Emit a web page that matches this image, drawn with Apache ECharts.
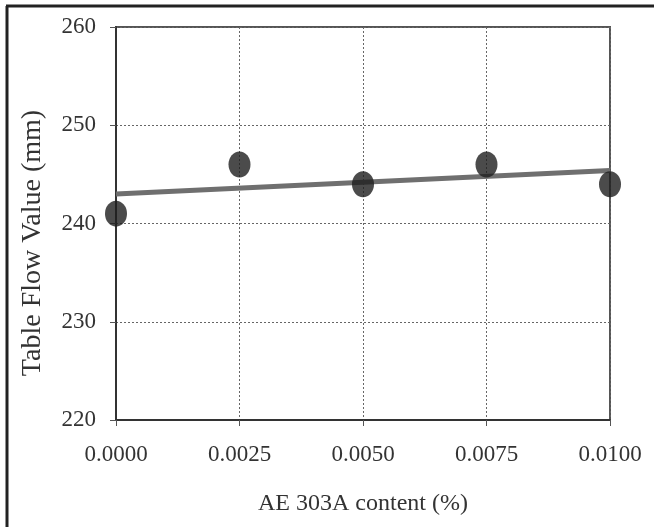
<!DOCTYPE html>
<html><head><meta charset="utf-8">
<script src="https://cdn.jsdelivr.net/npm/echarts@6/dist/echarts.min.js"></script>
<style>html,body{margin:0;padding:0;background:#fff}#c{width:654px;height:527px}</style>
</head><body><div id="c"></div>
<script>
const xValues = [0.0000, 0.0025, 0.0050, 0.0075, 0.0100];
const yValues = [241, 246, 244, 246, 244];
const trendX = [0.0000, 0.0100];
const trendY = [243.0, 245.4];
const xTicks = ['0.0000', '0.0025', '0.0050', '0.0075', '0.0100'];
const yTicks = [220, 230, 240, 250, 260];
const xTitle = 'AE 303A content (%)';
const yTitle = 'Table Flow Value (mm)';

const font = 'Liberation Serif';
const chart = echarts.init(document.getElementById('c'));
chart.setOption({
  animation: false,
  backgroundColor: '#fff',
  grid: { left: 116, right: 44, top: 27, bottom: 107, show: true, borderColor: '#555', borderWidth: 2, backgroundColor: 'transparent' },
  xAxis: {
    type: 'value', min: 0, max: 0.01, interval: 0.0025,
    name: xTitle, nameLocation: 'middle', nameGap: 72,
    nameTextStyle: { fontFamily: font, fontSize: 24, color: '#333' },
    axisLine: { show: true, onZero: false, lineStyle: { color: '#333', width: 2 } },
    axisTick: { show: true, length: 6, lineStyle: { color: '#555' } },
    axisLabel: { fontFamily: font, fontSize: 23, color: '#333', margin: 23,
      formatter: v => xTicks[Math.round(v / 0.0025)] },
    splitLine: { show: true, lineStyle: { color: '#666', type: [2, 2], width: 1 } }
  },
  yAxis: {
    type: 'value', min: 220, max: 260, interval: 10,
    axisLine: { show: true, lineStyle: { color: '#333', width: 2 } },
    axisTick: { show: true, length: 6, lineStyle: { color: '#555' } },
    axisLabel: { fontFamily: font, fontSize: 23, color: '#333', margin: 20,
      formatter: v => String(yTicks[Math.round((v - 220) / 10)]) },
    splitLine: { show: true, lineStyle: { color: '#666', type: [2, 2], width: 1 } }
  },
  series: [
    { type: 'line', data: trendX.map((x, i) => [x, trendY[i]]), symbol: 'none',
      lineStyle: { color: '#6f6f6f', width: 5 }, z: 2 },
    { type: 'scatter', data: xValues.map((x, i) => [x, yValues[i]]),
      symbol: 'circle', symbolSize: [22, 26], itemStyle: { color: '#1e1e1e' }, z: 3 }
  ],
  graphic: [
    { type: 'line', shape: { x1: 7, y1: 6, x2: 7, y2: 527 }, style: { stroke: '#222', lineWidth: 3 } },
    { type: 'line', shape: { x1: 6, y1: 6, x2: 654, y2: 6 }, style: { stroke: '#222', lineWidth: 3 } },
    { type: 'text', x: 33, y: 243, rotation: Math.PI / 2,
      style: { text: yTitle, font: '28px "Liberation Serif"', fill: '#333', align: 'center', verticalAlign: 'middle' } }
  ]
});
</script></body></html>
